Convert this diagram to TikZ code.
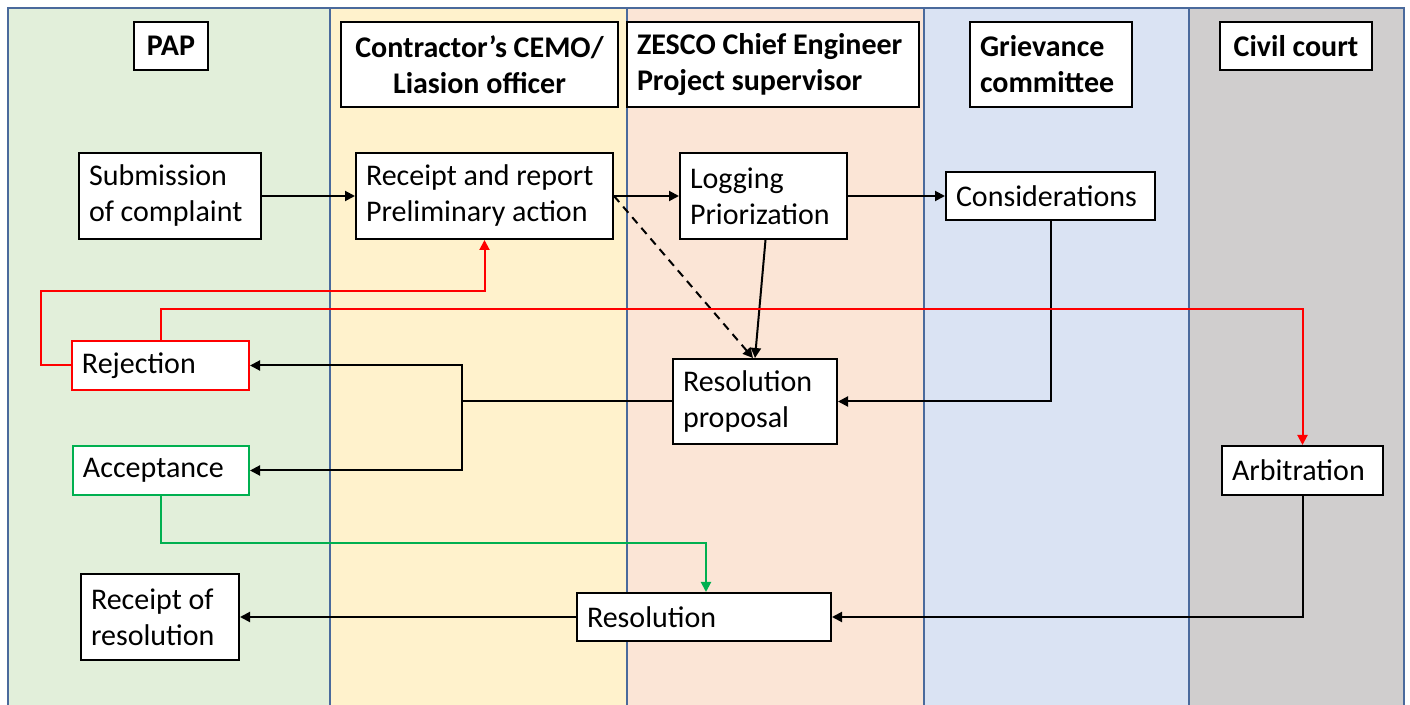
\documentclass[tikz,border=0pt]{standalone}
\usepackage{fontspec}
\setmainfont{Carlito}
\usetikzlibrary{arrows.meta}
\usetikzlibrary{calc}

\definecolor{papgreen}{HTML}{E2EFDA}
\definecolor{contryellow}{HTML}{FFF2CC}
\definecolor{zescopeach}{HTML}{FBE5D6}
\definecolor{grievblue}{HTML}{DAE3F3}
\definecolor{courtgray}{HTML}{D0CECE}
\definecolor{laneline}{HTML}{4A6A9C}
\definecolor{rejred}{HTML}{FF0000}
\definecolor{accgreen}{HTML}{00B050}

\tikzset{
  lane/.style={draw=laneline, line width=0.75pt},
  flowbox/.style={draw, fill=white, line width=1pt, inner xsep=5pt, inner ysep=0pt,
    align=flush left, font=\fontsize{15}{18}\selectfont},
  headbox/.style={flowbox, font=\fontsize{15}{18}\selectfont\bfseries},
  conn/.style={line width=1pt, -{Triangle[length=5pt,width=5pt]}},
}

\begin{document}
\begin{tikzpicture}[x=0.5pt, y=-0.5pt]
	% Batas gambar
	\useasboundingbox (0,0) rectangle (1410,705);
	
	%% LAJUR (SWIMLANES) %%
	\filldraw[lane, fill=papgreen] (8,8) rectangle (330,712);
	\filldraw[lane, fill=contryellow] (330,8) rectangle (627,712);
	\filldraw[lane, fill=zescopeach] (627,8) rectangle (924,712);
	\filldraw[lane, fill=grievblue] (924,8) rectangle (1189,712);
	\filldraw[lane, fill=courtgray] (1189,8) rectangle (1404,712);
	
	%% JUDUL LAJUR %%
	\node[headbox, align=center, minimum width=37pt, minimum height=24pt] (h_pap) at (171,46) {PAP};
	\node[headbox, align=center, minimum width=138.5pt, minimum height=42.5pt] (h_contr) at (479.5,64.5) {Contractor’s CEMO/\\Liasion officer};
	\node[headbox, text width=136pt, minimum height=42.5pt] (h_zesco) at (773,64.5) {ZESCO Chief Engineer\\Project supervisor};
	\node[headbox, text width=71pt, minimum height=42.5pt] (h_griev) at (1051,64.5) {Grievance\\committee};
	\node[headbox, align=center, minimum width=76pt, minimum height=24pt] (h_court) at (1296,46) {Civil court};
	
	%% KOTAK ALUR %%
	\node[flowbox, text width=81pt, minimum height=43pt] (sub) at (170,196) {Submission\\of complaint};
	\node[flowbox, text width=118.5pt, minimum height=43pt] (rec) at (484.5,196) {Receipt and report\\Preliminary action};
	\node[flowbox, text width=73.5pt, minimum height=43pt] (log) at (763.5,196) {Logging\\Priorization};
	\node[flowbox, text width=94.5pt, minimum height=24pt] (cons) at (1050.5,196) {Considerations};
	\node[flowbox, text width=72pt, minimum height=42.5pt] (prop) at (755,401.5) {Resolution\\proposal};
	\node[flowbox, draw=rejred, text width=78.5pt, minimum height=24.5pt] (rej) at (160.5,365.5) {Rejection};
	\node[flowbox, draw=accgreen, text width=78pt, minimum height=24.5pt] (acc) at (161,470.5) {Acceptance};
	\node[flowbox, text width=70.5pt, minimum height=24.5pt] (arb) at (1302.5,470.5) {Arbitration};
	\node[flowbox, text width=69pt, minimum height=43pt] (rcres) at (160,617) {Receipt of\\resolution};
	\node[flowbox, text width=117pt, minimum height=24pt] (res) at (704,617) {Resolution};
	
	% Titik cabang ke Rejection / Acceptance
	\coordinate (fork) at (462,401.5);
	
	%% PANAH HITAM %%
	\draw[conn] (sub) -- (rec);
	\draw[conn] (rec) -- (log);
	\draw[conn] (log) -- (cons);
	\draw[conn, dashed, dash pattern=on 4pt off 3pt] (rec.east) -- ($(prop.north)+(-2,0)$);
	\draw[conn] ($(log.south)+(2,0)$) -- (prop.north);
	\draw[conn] (cons.south) |- (prop.east);
	\draw[line width=1pt] (prop.west) -- (fork);
	\draw[conn] (fork) |- (rej.east);
	\draw[conn] (fork) |- (acc.east);
	\draw[conn] (arb.south) |- (res.east);
	\draw[conn] (res.west) -- (rcres.east);
	
	%% PANAH MERAH DAN HIJAU %%
	\draw[conn, draw=rejred] (rej.west) -- ++(-30,0) |- ($(rec.south)+(0,51)$) -- (rec.south);
	\draw[conn, draw=rejred] (rej.north) |- ($(arb.north)+(0,-136)$) -- (arb.north);
	\draw[conn, draw=accgreen] (acc.south) |- ($(res.north)+(2,-49)$) -- ($(res.north)+(2,0)$);
\end{tikzpicture}
\end{document}
